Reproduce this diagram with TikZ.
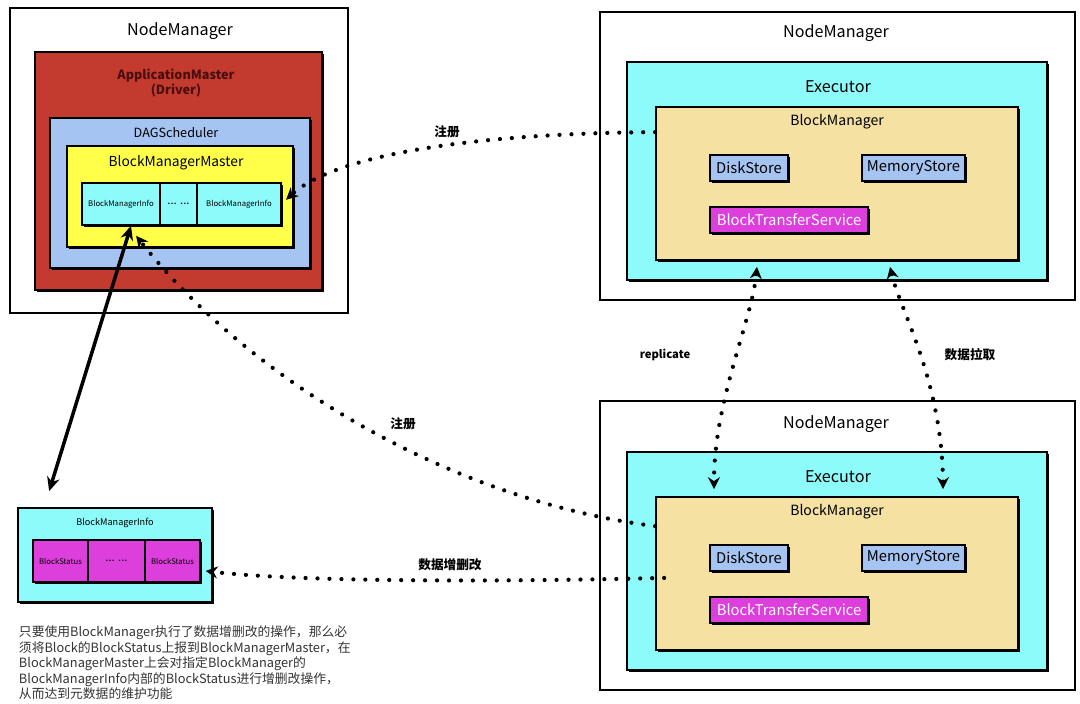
\documentclass[tikz,border=0pt]{standalone}
\usepackage{fontspec}
\setmainfont{Noto Sans CJK SC}
\usetikzlibrary{arrows.meta,shadows}

\definecolor{amred}{HTML}{C23B2E}
\definecolor{amtext}{HTML}{4A0E0E}
\definecolor{dagblue}{HTML}{A6C4F2}
\definecolor{bmmyellow}{HTML}{FFFF4A}
\definecolor{infocyan}{HTML}{8EFBFB}
\definecolor{bmtan}{HTML}{F5E1A2}
\definecolor{btsmag}{HTML}{DD3FDD}
\definecolor{notegray}{HTML}{333333}

\tikzset{
	nmbox/.style={draw, line width=1pt, fill=white},
	sbox/.style={draw, line width=1.2pt, drop shadow={shadow xshift=1.6pt, shadow yshift=-1.6pt, fill=black, opacity=1}},
	cellbox/.style={sbox, inner sep=0pt, font=\fontsize{5.5}{6}\selectfont},
	storebox/.style={sbox, fill=dagblue, inner sep=0pt, minimum height=0.65cm, font=\fontsize{10.5}{12}\selectfont},
	title/.style={font=\fontsize{11.5}{13}\selectfont},
	subtitle/.style={font=\fontsize{9}{11}\selectfont},
	tag/.style={font=\bfseries\fontsize{9}{11}\selectfont},
	dotline/.style={line width=3pt, line cap=round, dash pattern=on 0pt off 8.5pt, >={Stealth[length=8.5pt,width=8.5pt]}},
}

\begin{document}
\begin{tikzpicture}[x=0.025cm, y=-0.025cm]

	\useasboundingbox (0,0) rectangle (1080,704);

	% Driver side
	\node[nmbox, minimum width=8.45cm, minimum height=7.625cm] (nmL) at (179,160.5) {};
	\node[title] (nmLt) at (180,31) {NodeManager};
	\node[sbox, fill=amred, minimum width=7.175cm, minimum height=5.95cm] (am) at (178.5,171) {};
	\node[subtitle, font=\bfseries\fontsize{9}{11}\selectfont, text=amtext, align=center] (amt) at (176,83) {ApplicationMaster\\(Driver)};
	\node[sbox, fill=dagblue, minimum width=6.5cm, minimum height=3.75cm] (dag) at (180,193) {};
	\node[subtitle] (dagt) at (176,133) {DAGScheduler};
	\node[sbox, fill=bmmyellow, minimum width=5.65cm, minimum height=2.525cm] (bmm) at (180,196.5) {};
	\node[subtitle, font=\fontsize{9.8}{11}\selectfont] (bmmt) at (176,163) {BlockManagerMaster};
	\node[cellbox, fill=infocyan, minimum width=1.95cm, minimum height=1.05cm] (infoA) at (121,204) {BlockManagerInfo};
	\node[cellbox, fill=infocyan, minimum width=0.925cm, minimum height=1.05cm, font=\fontsize{8}{9}\selectfont] (infoB) at (178.5,204) {... ...};
	\node[cellbox, fill=infocyan, minimum width=2.1cm, minimum height=1.05cm] (infoC) at (239,204) {BlockManagerInfo};

	% Executor on top
	\node[nmbox, minimum width=11.875cm, minimum height=7.2cm] (nmA) at (837.5,156) {};
	\node[title] (nmAt) at (836,33) {NodeManager};
	\node[sbox, fill=infocyan, minimum width=10.5cm, minimum height=5.45cm] (execA) at (837,171) {};
	\node[title] (execAt) at (838,87) {Executor};
	\node[sbox, fill=bmtan, minimum width=9.05cm, minimum height=3.825cm] (bmA) at (837,183.5) {};
	\node[subtitle, font=\fontsize{10}{12}\selectfont] (bmAt) at (837,122) {BlockManager};
	\node[storebox, minimum width=1.95cm] (diskA) at (749,168) {DiskStore};
	\node[storebox, minimum width=2.575cm] (memA) at (913.5,168) {MemoryStore};
	\node[storebox, fill=btsmag, text=white, minimum width=3.95cm] (btsA) at (789,220) {BlockTransferService};

	% Executor below
	\node[nmbox, minimum width=11.875cm, minimum height=7.225cm] (nmB) at (837.5,545.5) {};
	\node[title] (nmBt) at (836,424) {NodeManager};
	\node[sbox, fill=infocyan, minimum width=10.5cm, minimum height=5.45cm] (execB) at (837,561) {};
	\node[title] (execBt) at (838,477) {Executor};
	\node[sbox, fill=bmtan, minimum width=9.05cm, minimum height=3.825cm] (bmB) at (837,573.5) {};
	\node[subtitle, font=\fontsize{10}{12}\selectfont] (bmBt) at (837,512) {BlockManager};
	\node[storebox, minimum width=1.95cm] (diskB) at (749,558) {DiskStore};
	\node[storebox, minimum width=2.575cm] (memB) at (913.5,558) {MemoryStore};
	\node[storebox, fill=btsmag, text=white, minimum width=3.95cm] (btsB) at (789,610) {BlockTransferService};

	% BlockManagerInfo detail
	\node[sbox, fill=infocyan, minimum width=4.85cm, minimum height=2.35cm] (bmi) at (115,555) {};
	\node[font=\fontsize{6.5}{8}\selectfont] (bmit) at (115,523) {BlockManagerInfo};
	\node[cellbox, fill=btsmag, minimum width=1.375cm, minimum height=1.05cm] (statA) at (60.5,561) {BlockStatus};
	\node[cellbox, fill=btsmag, minimum width=1.425cm, minimum height=1.05cm, font=\fontsize{8}{9}\selectfont] (statB) at (116.5,561) {... ...};
	\node[cellbox, fill=btsmag, minimum width=1.375cm, minimum height=1.05cm] (statC) at (172.5,561) {BlockStatus};

	\node[anchor=north west, align=left, text=notegray, font=\fontsize{9.1}{9.7}\selectfont] (note) at (14,621) {只要使用BlockManager执行了数据增删改的操作，那么必\\须将Block的BlockStatus上报到BlockManagerMaster，在\\BlockManagerMaster上会对指定BlockManager的\\BlockManagerInfo内部的BlockStatus进行增删改操作，\\从而达到元数据的维护功能};

	% Connectors
	\draw[line width=2.5pt, {Stealth[length=10pt,width=9pt]}-{Stealth[length=10pt,width=9pt]}] ([xshift=0.25cm]infoA.south) -- ([xshift=0.8cm,yshift=0.4cm]bmi.north west);
	\draw[dotline, ->] ([yshift=-0.65cm]bmA.north west) .. controls (500,133) and (340,150) .. ([xshift=3pt,yshift=3pt]infoC.east);
	\draw[dotline, ->] ([yshift=-0.75cm]bmB.north west) .. controls (450,500) and (250,380) .. ([xshift=1.75cm,yshift=0.3cm]bmm.south west);
	\draw[dotline, ->] ([xshift=0.225cm,yshift=-0.11cm]bmB.west) .. controls (500,582) and (300,582) .. ([xshift=0.12cm,yshift=-0.25cm]statC.east);
	\draw[dotline, <->] ([xshift=-2cm,yshift=-0.15cm]bmA.south) .. controls (752,320) and (714,400) .. ([xshift=-3.075cm,yshift=0.175cm]bmB.north);
	\draw[dotline, <->] ([xshift=1.325cm,yshift=-0.15cm]bmA.south) .. controls (900,310) and (942,380) .. ([xshift=2.65cm,yshift=0.175cm]bmB.north);

	% Labels
	\node[tag] (regA) at (447,132) {注册};
	\node[tag] (regB) at (403,424) {注册};
	\node[tag, font=\bfseries\fontsize{8}{10}\selectfont] (rep) at (665,355) {replicate};
	\node[tag] (pull) at (970,355) {数据拉取};
	\node[tag] (crud) at (450,565) {数据增删改};

\end{tikzpicture}
\end{document}
